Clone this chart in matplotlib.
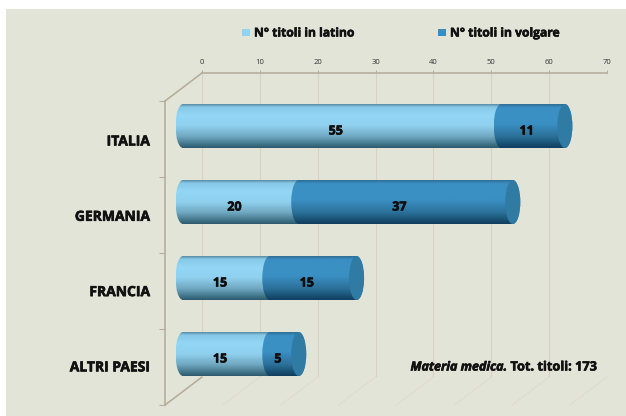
import numpy as np
import matplotlib
matplotlib.use("Agg")
import matplotlib.pyplot as plt
import matplotlib.patheffects as pe
from matplotlib.patches import Ellipse, Rectangle
from matplotlib.colors import LinearSegmentedColormap
from matplotlib.lines import Line2D

categories = ["ITALIA", "GERMANIA", "FRANCIA", "ALTRI PAESI"]
latino = [55, 20, 15, 15]
volgare = [11, 37, 15, 5]
ticks = [0, 10, 20, 30, 40, 50, 60, 70]
legend_labels = ["N° titoli in latino", "N° titoli in volgare"]

W, H = 626, 416
BG = "#e3e4d8"
plt.rcParams["font.family"] = ["Open Sans", "DejaVu Sans"]
fig = plt.figure(figsize=(W/100, H/100), dpi=100, facecolor="white")
fig.patches.append(Rectangle((6/W, 0), 1, 1-9/H, transform=fig.transFigure, fc=BG, ec="none", zorder=-5))
heavy = [pe.withStroke(linewidth=0.45, foreground="#111111")]

def axpx(x0, y0, x1, y1, **kw):
    return fig.add_axes([x0/W, 1-y1/H, (x1-x0)/W, (y1-y0)/H], **kw)

# back plane axis with the tick scale
back = axpx(202, 73, 607, 377, facecolor="none")
back.set_xlim(0, 70)
back.set_ylim(0, 1)
back.xaxis.tick_top()
back.set_xticks(ticks)
back.set_yticks([])
back.tick_params(axis="x", length=2, width=0.7, color="#b5ae9c", pad=3, labelsize=5.5, labelcolor="#333333")
back.grid(axis="x", color="#d6d3c5", lw=0.8)
for s in ["left", "right", "bottom"]:
    back.spines[s].set_visible(False)
back.spines["top"].set_color("#b5ae9c")
back.spines["top"].set_linewidth(1.2)

# floor and wall diagonals (pixel offsets from back to front plane)
DX, DY = -37, 28
for t in ticks[1:]:
    X = 202 + t*405/70
    fig.add_artist(Line2D([X/W, (X+DX)/W], [1-377/H, 1-(377+DY)/H], color="#dcdbcd", lw=0.7, zorder=-1))
wall = "#b5ae9c"
fig.add_artist(Line2D([202/W, 165/W], [1-73/H, 1-101/H], color=wall, lw=1.2, zorder=-1))
fig.add_artist(Line2D([202/W, 165/W], [1-377/H, 1-405/H], color=wall, lw=1.2, zorder=-1))

# main axes: bars
ax = axpx(165, 101, 607, 405, facecolor="none")
PX = 405/70
x_at_left = -(183-165)/PX
ax.set_xlim(x_at_left, x_at_left + 442/PX)
ax.set_ylim(3.5, -0.5)
ax.set_yticks(np.arange(-0.5, 4, 1))
ax.set_yticklabels([])
ax.set_xticks([])
ax.tick_params(axis="y", length=4, width=0.8, color=wall)
for s in ["top", "right", "bottom"]:
    ax.spines[s].set_visible(False)
ax.spines["left"].set_color(wall)
ax.spines["left"].set_linewidth(1.2)

cm_l = LinearSegmentedColormap.from_list("l", [(0, "#5b8fa8"), (.06, "#86c8e6"), (.25, "#93d6f6"), (.5, "#8fd0ee"), (.75, "#6fa6bf"), (.93, "#3f7186"), (1, "#2f5a6e")])
cm_v = LinearSegmentedColormap.from_list("v", [(0, "#2f6f96"), (.07, "#3b8fc4"), (.45, "#3a8fc3"), (.75, "#2b6f98"), (.95, "#15486a"), (1, "#123f5e")])
grad = np.linspace(0, 1, 64).reshape(-1, 1)
BH = 44/76
EW = 15/PX
SHIFT = -13/76   # bars sit above the centre of their slot
LBL = 5/76

def cyl(left, right, yc, cmap, z=2.0, clip=None):
    im = ax.imshow(grad, cmap=cmap, aspect="auto", vmin=0, vmax=1, zorder=z,
                   extent=(left, right, yc+BH/2, yc-BH/2))
    if clip is None:
        clip = Rectangle((left, yc-BH/2), right-left, BH, transform=ax.transData)
    else:
        clip = Ellipse((clip, yc), EW, BH, transform=ax.transData)
    im.set_clip_path(clip)

for i, (a, b) in enumerate(zip(latino, volgare)):
    yc = i + SHIFT
    t = a + b
    cyl(-EW/2, 0.02, yc, cm_l, clip=0)
    cyl(0, a, yc, cm_l)
    cyl(a, t, yc, cm_v)
    cyl(a-EW/2, a+0.02, yc, cm_v, z=2.1, clip=a)
    cyl(t, t+EW/2, yc, cm_v, clip=t)
    ax.add_patch(Ellipse((t, yc), EW, BH, fc="#2f7ba3", ec="none", zorder=3))
    ax.text(a/2 - 1.1, yc + LBL, str(a), ha="center", va="center", fontsize=9, fontweight="bold",
            color="#0d0d0d", zorder=5, path_effects=heavy)
    ax.text(a + b/2 - 1.1, yc + LBL, str(b), ha="center", va="center", fontsize=9, fontweight="bold",
            color="#0d0d0d", zorder=5, path_effects=heavy)
    fig.text(150/W, 1-(141.5+i*75.3)/H, categories[i], ha="right", va="center", fontsize=10, fontweight="bold",
             color="#111111", path_effects=heavy)

# legend
fig.patches.append(Rectangle((242/W, 1-36/H), 8/W, 7/H, transform=fig.transFigure, fc="#90d3f2", ec="none"))
fig.text(254/W, 1-33/H, legend_labels[0], ha="left", va="center", fontsize=8.7, fontweight="bold",
         color="#111111", path_effects=heavy)
fig.patches.append(Rectangle((438/W, 1-36/H), 8/W, 7/H, transform=fig.transFigure, fc="#3a8dc0", ec="none"))
fig.text(450/W, 1-33/H, legend_labels[1], ha="left", va="center", fontsize=8.7, fontweight="bold",
         color="#111111", path_effects=heavy)

fig.text(597/W, 1-367/H, "Tot. titoli: 173", ha="right", va="center",
         fontsize=9.2, fontweight="bold", color="#111111", path_effects=heavy)
fig.text(507/W, 1-367/H, "Materia medica.", ha="right", va="center", style="italic",
         fontsize=9, fontweight="bold", color="#111111", path_effects=heavy)

fig.savefig("out.png", dpi=100, facecolor="white")
